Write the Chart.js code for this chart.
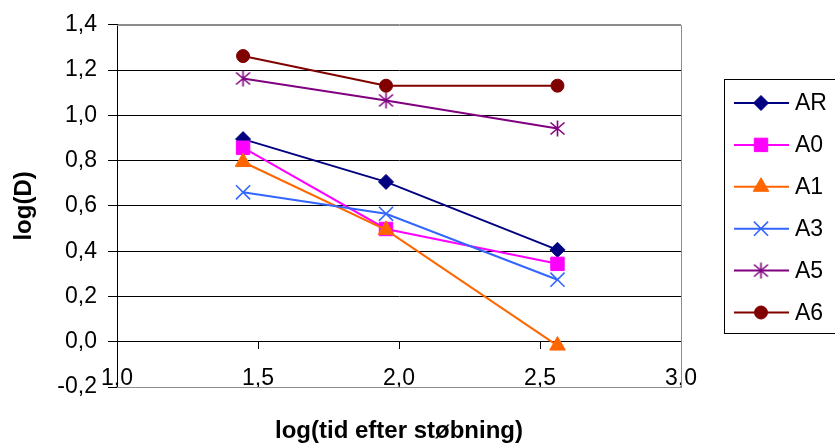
<!DOCTYPE html>
<html>
<head>
<meta charset="utf-8">
<title>log(D)</title>
<script src="https://cdn.jsdelivr.net/npm/chart.js@4.4.1/dist/chart.umd.min.js"></script>
<style>
  html, body { margin: 0; padding: 0; background: #ffffff; }
  canvas { display: block; }
</style>
</head>
<body>
<canvas id="chart" width="835" height="443"></canvas>
<script>
// log(tid efter støbning) for the three measuring ages
const xValues = [1.447, 1.954, 2.562];

// log(D) per mixture
const arValues = [0.895, 0.706, 0.406];
const a0Values = [0.857, 0.498, 0.344];
const a1Values = [0.794, 0.494, -0.017];
const a3Values = [0.660, 0.565, 0.274];
const a5Values = [1.163, 1.066, 0.942];
const a6Values = [1.262, 1.131, 1.131];

const seriesNames = ['AR', 'A0', 'A1', 'A3', 'A5', 'A6'];
const seriesColors = ['#000080', '#FF00FF', '#FF6600', '#3366FF', '#800080', '#800000'];

const xTickValues = [1.0, 1.5, 2.0, 2.5, 3.0];
const yTickValues = [-0.2, 0.0, 0.2, 0.4, 0.6, 0.8, 1.0, 1.2, 1.4];

const FONT = "'Liberation Sans', Arial, Helvetica, sans-serif";
const fmt = v => Number(v).toFixed(1).replace('.', ',');

// asterisk marker (X with a vertical stroke)
function makeAsterisk(color) {
  const c = document.createElement('canvas');
  c.width = 17; c.height = 17;
  const g = c.getContext('2d');
  g.strokeStyle = color;
  g.lineWidth = 1.6;
  g.beginPath();
  g.moveTo(1.5, 2.5); g.lineTo(15.5, 14.5);
  g.moveTo(1.5, 14.5); g.lineTo(15.5, 2.5);
  g.moveTo(8.5, 0.5); g.lineTo(8.5, 16.5);
  g.stroke();
  return c;
}

const markerStyles = [
  { pointStyle: 'rectRot', radius: 7.5, borderWidth: 1 },
  { pointStyle: 'rect', radius: 9.5, borderWidth: 1 },
  { pointStyle: 'triangle', radius: 9, borderWidth: 1 },
  { pointStyle: 'crossRot', radius: 10, borderWidth: 1.6 },
  { pointStyle: makeAsterisk(seriesColors[4]), radius: 8, borderWidth: 1 },
  { pointStyle: 'circle', radius: 6.5, borderWidth: 1 }
];

const seriesValues = [arValues, a0Values, a1Values, a3Values, a5Values, a6Values];

const datasets = seriesNames.map((name, i) => ({
  label: name,
  data: xValues.map((x, k) => ({ x: x, y: seriesValues[i][k] })),
  borderColor: seriesColors[i],
  backgroundColor: seriesColors[i],
  borderWidth: 2,
  tension: 0,
  pointStyle: markerStyles[i].pointStyle,
  pointRadius: markerStyles[i].radius,
  pointHoverRadius: markerStyles[i].radius,
  pointBorderWidth: markerStyles[i].borderWidth,
  pointBorderColor: seriesColors[i],
  pointBackgroundColor: seriesColors[i],
  order: seriesNames.length - i,
  clip: false
}));

// boxed legend at the right: line segment through the marker, then the name
const legendBox = {
  id: 'legendBox',
  afterDraw(chart) {
    const ctx = chart.ctx;
    const left = 724.5, top = 79.5, bottom = 333.5;
    ctx.save();
    ctx.fillStyle = '#ffffff';
    ctx.fillRect(left, top, chart.width - left + 5, bottom - top);
    ctx.strokeStyle = '#000000';
    ctx.lineWidth = 1;
    ctx.strokeRect(left, top, chart.width - left + 5, bottom - top);
    seriesNames.forEach((name, i) => {
      const y = 103 + i * 41.9;
      ctx.strokeStyle = seriesColors[i];
      ctx.lineWidth = 2;
      ctx.beginPath();
      ctx.moveTo(734, y);
      ctx.lineTo(789, y);
      ctx.stroke();
      const m = markerStyles[i];
      ctx.fillStyle = seriesColors[i];
      ctx.strokeStyle = seriesColors[i];
      ctx.lineWidth = m.borderWidth;
      Chart.helpers.drawPoint(ctx, { pointStyle: m.pointStyle, radius: m.radius, borderWidth: m.borderWidth, rotation: 0 }, 761, y);
      ctx.fillStyle = '#000000';
      ctx.font = '23px ' + FONT;
      ctx.textAlign = 'left';
      ctx.textBaseline = 'middle';
      ctx.fillText(name, 795, y + 1);
    });
    ctx.restore();
  }
};

// plot-area frame: grey top, right and bottom edges
const plotFrame = {
  id: 'plotFrame',
  beforeDatasetsDraw(chart) {
    const { left, right, top, bottom } = chart.chartArea;
    const ctx = chart.ctx;
    ctx.save();
    ctx.strokeStyle = edgeGray;
    ctx.lineWidth = 1;
    ctx.beginPath();
    ctx.moveTo(left, Math.round(top) + 0.5);
    ctx.lineTo(Math.round(right) + 0.5, Math.round(top) + 0.5);
    ctx.lineTo(Math.round(right) + 0.5, Math.round(bottom) + 0.5);
    ctx.lineTo(left, Math.round(bottom) + 0.5);
    ctx.stroke();
    ctx.restore();
  }
};

const edgeGray = '#8c8c8c';

new Chart(document.getElementById('chart'), {
  type: 'line',
  data: { datasets: datasets },
  plugins: [plotFrame, legendBox],
  options: {
    responsive: false,
    animation: false,
    devicePixelRatio: 1,
    layout: { padding: { left: 0, top: 24, right: 154, bottom: 0 } },
    plugins: { legend: { display: false }, tooltip: { enabled: false } },
    scales: {
      x: {
        type: 'linear',
        position: 'bottom',
        min: 1.0,
        max: 3.0,
        afterBuildTicks: s => { s.ticks = xTickValues.map(v => ({ value: v })); },
        grid: { display: false },
        border: { display: false },
        ticks: { display: false },
        title: {
          display: true,
          text: 'log(tid efter støbning)',
          color: '#000000',
          font: { family: FONT, size: 24, weight: 'bold', lineHeight: 1.2 },
          padding: { top: 0, bottom: -3 }
        },
        afterFit: s => { s.height = 56; }
      },
      xAxisLine: {
        type: 'linear',
        position: { y: 0 },
        min: 1.0,
        max: 3.0,
        afterBuildTicks: s => { s.ticks = xTickValues.map(v => ({ value: v })); },
        ticks: {
          display: true,
          font: { family: FONT, size: 23 },
          color: '#000000',
          padding: 16,
          maxRotation: 0,
          autoSkip: false,
          callback: v => fmt(v)
        },
        grid: { drawOnChartArea: false, drawTicks: true, tickLength: 7, color: '#000000', lineWidth: 1 },
        border: { display: true, color: '#000000', width: 1 },
        afterFit: s => { s.height = 0; s.paddingLeft = 0; s.paddingRight = 0; }
      },
      y: {
        type: 'linear',
        position: 'left',
        min: -0.2,
        max: 1.4,
        afterBuildTicks: s => { s.ticks = yTickValues.map(v => ({ value: v })); },
        grid: {
          color: c => (c.tick && (Math.abs(c.tick.value - 1.4) < 1e-6 || Math.abs(c.tick.value + 0.2) < 1e-6)) ? edgeGray : '#000000',
          tickColor: '#000000',
          tickLength: 9,
          lineWidth: 1
        },
        border: { display: true, color: '#000000', width: 1 },
        ticks: {
          font: { family: FONT, size: 23 },
          color: '#000000',
          padding: 11,
          callback: v => fmt(v)
        },
        title: {
          display: true,
          text: 'log(D)',
          color: '#000000',
          font: { family: FONT, size: 24, weight: 'bold', lineHeight: 1.2 },
          padding: { top: 10, bottom: 0 }
        },
        afterFit: s => { s.width = 117; }
      }
    }
  }
});
</script>
</body>
</html>
